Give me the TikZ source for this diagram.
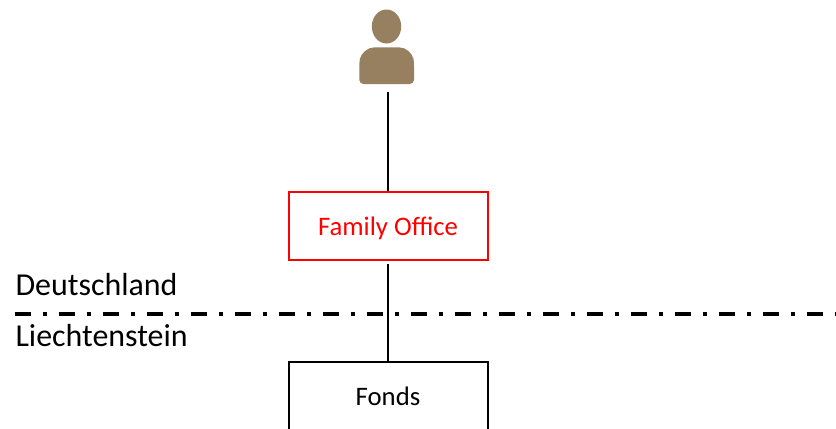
\documentclass[tikz,border=0pt]{standalone}
\usepackage{fontspec}
\setmainfont{Carlito}
\usepackage{xcolor}
\definecolor{personbrown}{HTML}{97805F}
\tikzstyle{box}=[fill=white, draw=black, shape=rectangle, line width=1.42pt, minimum width=199\unitlength, minimum height=68\unitlength, inner sep=0pt, text height=15pt, text depth=2pt, font=\fontsize{19}{23}\selectfont]
\tikzstyle{red box}=[box, draw=red, text=red]
\tikzstyle{country}=[anchor=base west, inner sep=0pt, font=\fontsize{22.7}{27}\selectfont]
\tikzstyle{edge}=[-, draw=black, line width=1.42pt]
\tikzstyle{border}=[-, draw=black, line width=2.9pt, dash pattern=on 11.38pt off 8.54pt on 2.85pt off 8.54pt]
\tikzstyle{person}=[fill=personbrown, draw=none]
\setlength{\unitlength}{0.025cm}
\pgfdeclarelayer{edgelayer}
\pgfdeclarelayer{nodelayer}
\pgfsetlayers{edgelayer,nodelayer}
\begin{document}
\begin{tikzpicture}[x=0.025cm, y=-0.025cm]
    	\useasboundingbox (0, 0) rectangle (836, 428);
    	\begin{pgfonlayer}{nodelayer}
    		\node [style=red box] (office) at (388, 226) {Family Office};
    		\node [style=box] (fonds) at (388, 396) {Fonds};
    		\node [style=country] (de) at (15.3, 295) {Deutschland};
    		\node [style=country] (li) at (15.3, 346) {Liechtenstein};
    		\coordinate (person) at (388, 92);
    		\coordinate (west) at (14.7, 314);
    		\coordinate (east) at (836, 314);
    		\fill [style=person] (386.5, 26.5) ellipse (14.7 and 17);
    		\fill [style=person] (359.3, 84) [rounded corners=3pt] -- (359.3, 62) [rounded corners=9pt] -- (362, 47.3) -- (411.5, 47.3) [rounded corners=3pt] -- (414, 62) -- (414, 84) -- cycle;
    	\end{pgfonlayer}
    	\begin{pgfonlayer}{edgelayer}
    		\draw [style=border] (west) to (east);
    		\draw [style=edge] (person) to (office);
    		\draw [style=edge, shorten <=2pt] (office) to (fonds);
    	\end{pgfonlayer}
    \end{tikzpicture}
\end{document}
